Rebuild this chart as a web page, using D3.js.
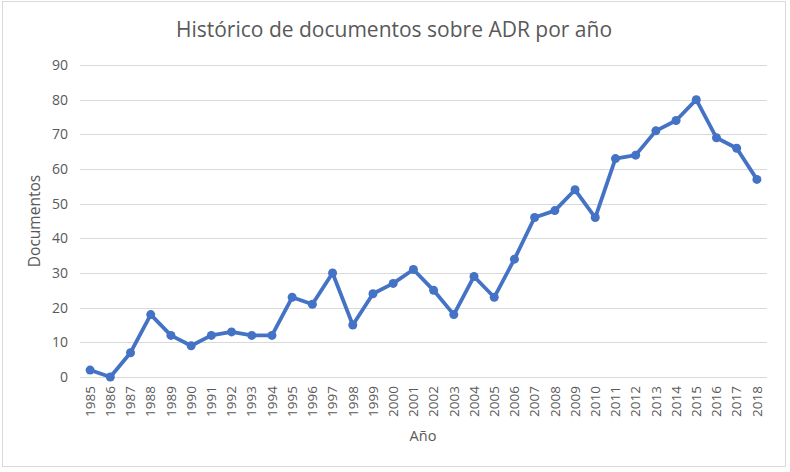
<!DOCTYPE html>
<html><head><meta charset="utf-8">
<script src="https://cdn.jsdelivr.net/npm/d3@7"></script>
<style>
body{margin:0;background:#fff;}
svg text{font-family:"Open Sans",sans-serif;fill:#595959;}
</style></head><body>
<svg id="c" width="790" height="472"></svg>
<script>
const years = ["1985","1986","1987","1988","1989","1990","1991","1992","1993","1994","1995","1996","1997","1998","1999","2000","2001","2002","2003","2004","2005","2006","2007","2008","2009","2010","2011","2012","2013","2014","2015","2016","2017","2018"];
const documentos = [2,0,7,18,12,9,12,13,12,12,23,21,30,15,24,27,31,25,18,29,23,34,46,48,54,46,63,64,71,74,80,69,66,57];
const yTicks = [0,10,20,30,40,50,60,70,80,90];
const title = "Histórico de documentos sobre ADR por año";
const xTitle = "Año";
const yTitle = "Documentos";

const svg = d3.select("#c");
svg.append("rect").attr("x",2.5).attr("y",1.5).attr("width",783).attr("height",465)
  .attr("fill","#fff").attr("stroke","#d9d9d9");

const m = {l:80, r:767, t:65, b:377};
const x = d3.scaleBand().domain(years).range([m.l, m.r]);
const y = d3.scaleLinear().domain([0,90]).range([m.b, m.t]);

// gridlines
svg.append("g").selectAll("line").data(yTicks).join("line")
  .attr("x1",m.l).attr("x2",m.r)
  .attr("y1",d=>Math.round(y(d))+0.5).attr("y2",d=>Math.round(y(d))+0.5)
  .attr("stroke","#d9d9d9").attr("stroke-width",1);

// y axis labels
const yAxis = svg.append("g").attr("transform",`translate(${m.l-12},0)`)
  .call(d3.axisLeft(y).tickValues(yTicks).tickSize(0).tickPadding(0));
yAxis.select(".domain").remove();
yAxis.selectAll("text").attr("font-size",14).attr("fill","#595959").attr("font-family","Open Sans");

// x axis labels
const xAxis = svg.append("g").attr("transform",`translate(0,${m.b})`)
  .call(d3.axisBottom(x).tickSize(0).tickPadding(0));
xAxis.select(".domain").remove();
xAxis.selectAll("text").attr("font-size",13.5).attr("fill","#595959").attr("font-family","Open Sans")
  .attr("text-anchor","end").attr("dy","0.35em")
  .attr("transform","translate(0,9) rotate(-90)").attr("x",0).attr("y",0);

// line
const line = d3.line().x((d,i)=>x(years[i])+x.bandwidth()/2).y(d=>y(d));
svg.append("path").datum(documentos).attr("d",line)
  .attr("fill","none").attr("stroke","#4472C4").attr("stroke-width",3.8)
  .attr("stroke-linejoin","round").attr("stroke-linecap","round");
svg.append("g").selectAll("circle").data(documentos).join("circle")
  .attr("cx",(d,i)=>x(years[i])+x.bandwidth()/2).attr("cy",d=>y(d)).attr("r",4.5)
  .attr("fill","#4472C4");

svg.append("text").attr("x",394).attr("y",37).attr("text-anchor","middle")
  .attr("font-size",21).text(title);
svg.append("text").attr("x",423).attr("y",441).attr("text-anchor","middle")
  .attr("font-size",14.5).text(xTitle);
svg.append("text").attr("transform",`translate(40,221) rotate(-90)`).attr("text-anchor","middle")
  .attr("font-size",15.5).text(yTitle);
</script></body></html>
